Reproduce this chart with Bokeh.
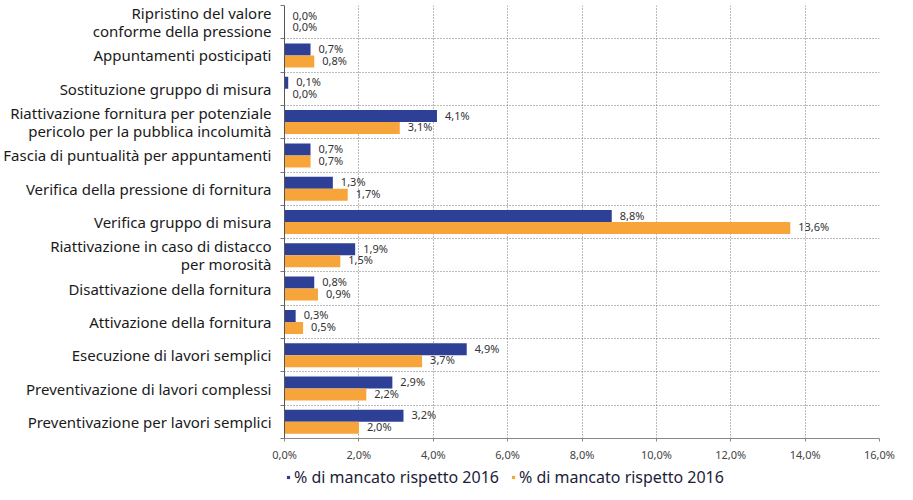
from bokeh.plotting import figure
from bokeh.layouts import column
from bokeh.models import (ColumnDataSource, FixedTicker, Legend, LegendItem,
                          LabelSet, Range1d)
from bokeh.core.properties import value
from bokeh.transform import dodge
from bokeh.embed import file_html
from bokeh.resources import INLINE

categories = [
    "Ripristino del valore\nconforme della pressione",
    "Appuntamenti posticipati",
    "Sostituzione gruppo di misura",
    "Riattivazione fornitura per potenziale\npericolo per la pubblica incolumità",
    "Fascia di puntualità per appuntamenti",
    "Verifica della pressione di fornitura",
    "Verifica gruppo di misura",
    "Riattivazione in caso di distacco\nper morosità",
    "Disattivazione della fornitura",
    "Attivazione della fornitura",
    "Esecuzione di lavori semplici",
    "Preventivazione di lavori complessi",
    "Preventivazione per lavori semplici",
]
serie_blu = [0.0, 0.7, 0.1, 4.1, 0.7, 1.3, 8.8, 1.9, 0.8, 0.3, 4.9, 2.9, 3.2]
serie_arancio = [0.0, 0.8, 0.0, 3.1, 0.7, 1.7, 13.6, 1.5, 0.9, 0.5, 3.7, 2.2, 2.0]
x_ticks = [0, 2, 4, 6, 8, 10, 12, 14, 16]
x_tick_labels = ["0,0%", "2,0%", "4,0%", "6,0%", "8,0%", "10,0%", "12,0%", "14,0%", "16,0%"]
series_names = ["% di mancato rispetto 2016", "% di mancato rispetto 2016"]

BLUE = "#2E3F96"
ORANGE = "#F7A43A"
FONT = "Noto Sans"

n = len(categories)
ypos = [n - 1 - i for i in range(n)]


def fmt(v):
    return f"{v:.1f}".replace(".", ",") + "%"


src = ColumnDataSource(dict(
    y=ypos, blu=serie_blu, ara=serie_arancio,
    lblu=[fmt(v) for v in serie_blu], lara=[fmt(v) for v in serie_arancio],
))

p = figure(width=897, height=464, output_backend="svg", toolbar_location=None,
           x_range=Range1d(0, 16), y_range=Range1d(-0.5, n - 0.5),
           min_border_top=5, min_border_left=275, min_border_right=18,
           min_border_bottom=0)
p.outline_line_color = None
p.background_fill_color = "white"

rb = p.hbar(y=dodge("y", 0.18, range=p.y_range), left=0, right="blu", height=0.36,
            source=src, fill_color=BLUE, line_color=None)
ro = p.hbar(y=dodge("y", -0.18, range=p.y_range), left=0, right="ara", height=0.36,
            source=src, fill_color=ORANGE, line_color=None)

lab_style = dict(text_font=value(FONT), text_font_size="11px", text_color="#333333",
                 text_baseline="middle", x_offset=8)
p.add_layout(LabelSet(x="blu", y=dodge("y", 0.21, range=p.y_range), text="lblu",
                      source=src, **lab_style))
p.add_layout(LabelSet(x="ara", y=dodge("y", -0.14, range=p.y_range), text="lara",
                      source=src, **lab_style))

# y axis
boundaries = [i + 0.5 for i in range(-1, n)]
p.yaxis.ticker = FixedTicker(ticks=ypos, minor_ticks=boundaries)
p.yaxis.major_label_overrides = {y: c for y, c in zip(ypos, categories)}
p.yaxis.major_tick_line_color = None
p.yaxis.minor_tick_out = 4
p.yaxis.minor_tick_in = 0
p.yaxis.minor_tick_line_color = "#777777"
p.yaxis.axis_line_color = "#555555"
p.yaxis.major_label_text_font = FONT
p.yaxis.major_label_text_font_size = "15px"
p.yaxis.major_label_text_color = "#1a1a1a"
p.yaxis.major_label_text_line_height = 0.9
p.yaxis.major_label_standoff = 7

# x axis
p.xaxis.ticker = FixedTicker(ticks=x_ticks)
p.xaxis.major_label_overrides = {t: l for t, l in zip(x_ticks, x_tick_labels)}
p.xaxis.axis_line_color = "#888888"
p.xaxis.major_tick_line_color = "#888888"
p.xaxis.major_tick_out = 3
p.xaxis.major_tick_in = 0
p.xaxis.minor_tick_line_color = None
p.xaxis.major_label_text_font = FONT
p.xaxis.major_label_text_font_size = "11px"
p.xaxis.major_label_text_color = "#444444"
p.xaxis.major_label_standoff = 5

# grids
p.xgrid.ticker = FixedTicker(ticks=x_ticks[1:])
p.xgrid.grid_line_color = "#777777"
p.xgrid.grid_line_dash = "1 2"
p.ygrid.ticker = FixedTicker(ticks=boundaries[:-1])
p.ygrid.grid_line_color = "#777777"
p.ygrid.grid_line_dash = "1 2"

# legend strip (its frame is aligned with the chart frame by the layout)
lg = figure(width=897, height=24, output_backend="svg", toolbar_location=None,
            x_range=Range1d(0, 1), y_range=Range1d(0, 1),
            x_axis_location=None, y_axis_location=None,
            min_border=0, min_border_left=275, min_border_right=18)
lg.outline_line_color = None
lg.xgrid.visible = False
lg.ygrid.visible = False
hidden = ColumnDataSource(dict(x=[-10], y=[-10]))
lb = lg.scatter(x="x", y="y", marker="square", size=6, source=hidden,
                fill_color=BLUE, line_color=None)
lo = lg.scatter(x="x", y="y", marker="square", size=6, source=hidden,
                fill_color=ORANGE, line_color=None)
legend = Legend(items=[LegendItem(label=series_names[0], renderers=[lb]),
                       LegendItem(label=series_names[1], renderers=[lo])],
                orientation="horizontal", location=(0, 0),
                glyph_width=8, glyph_height=8, label_standoff=2, spacing=10,
                label_height=18,
                label_text_font=FONT, label_text_font_size="16px",
                label_text_color="#1d1d3a", border_line_color=None,
                background_fill_alpha=0, padding=0, margin=0)
lg.add_layout(legend, "center")

open("out.html", "w").write(file_html(column(p, lg, spacing=0), INLINE))
